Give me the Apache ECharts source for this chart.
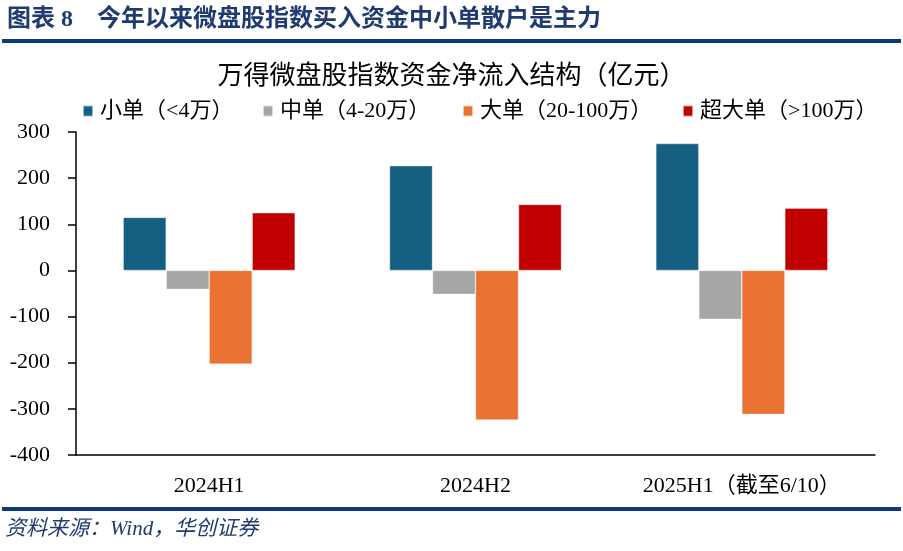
<!DOCTYPE html>
<html>
<head>
<meta charset="utf-8">
<script src="https://cdn.jsdelivr.net/npm/echarts@6/dist/echarts.min.js"></script>
<style>html,body{margin:0;padding:0;background:#fff;}#c{width:903px;height:551px;}</style>
</head>
<body>
<div id="c"></div>
<script>
const categories = ['2024H1', '2024H2', '2025H1（截至6/10）'];
const seriesNames = ['小单（<4万）', '中单（4-20万）', '大单（20-100万）', '超大单（>100万）'];
const smallOrders = [115, 227, 275];
const mediumOrders = [-41, -52, -106];
const largeOrders = [-203, -324, -312];
const xlOrders = [125, 143, 135];
const yTicks = [-400, -300, -200, -100, 0, 100, 200, 300];

const colors = ['#155F82', '#A6A6A6', '#E97132', '#C00000'];
const values = [smallOrders, mediumOrders, largeOrders, xlOrders];
const FONT = '"Liberation Serif", "Noto Sans CJK SC", serif';
const legendLefts = [77, 257, 457, 677];

const chart = echarts.init(document.getElementById('c'));
chart.setOption({
  animation: false,
  backgroundColor: '#fff',
  textStyle: { fontFamily: FONT },
  title: {
    text: '万得微盘股指数资金净流入结构（亿元）',
    left: 'center',
    top: 59,
    textStyle: { fontFamily: FONT, fontSize: 26, fontWeight: 'normal', color: '#000' }
  },
  legend: seriesNames.map((n, i) => ({
    data: [n],
    left: legendLefts[i],
    top: 95,
    itemWidth: 10,
    itemHeight: 11,
    icon: 'rect',
    textStyle: { fontFamily: FONT, fontSize: 22, color: '#000', padding: [0, 0, 0, 2] }
  })),
  grid: { left: 76, right: 28, top: 132, bottom: 96, containLabel: false },
  xAxis: [
    {
      type: 'category',
      data: categories,
      position: 'bottom',
      axisLine: { show: false },
      axisTick: { show: false },
      axisLabel: { fontFamily: FONT, fontSize: 22, color: '#000', margin: 20 }
    },
    {
      type: 'category',
      data: categories,
      position: 'bottom',
      axisLine: { show: true, onZero: true, lineStyle: { color: '#000', width: 1.5 } },
      axisTick: { show: false },
      axisLabel: { show: false }
    }
  ],
  yAxis: {
    type: 'value',
    min: yTicks[0],
    max: yTicks[yTicks.length - 1],
    interval: 100,
    axisLine: { show: true, lineStyle: { color: '#000', width: 1.5 } },
    axisTick: { show: true, inside: false, length: 8, lineStyle: { color: '#000', width: 1.5 } },
    splitLine: { show: false },
    axisLabel: { fontFamily: FONT, fontSize: 22, color: '#000', margin: 26 }
  },
  series: seriesNames.map((n, i) => ({
    name: n,
    type: 'bar',
    xAxisIndex: 0,
    data: values[i],
    barWidth: 43,
    barGap: '0%',
    itemStyle: { color: colors[i], borderColor: 'rgba(255,255,255,0.6)', borderWidth: 0.6 }
  })),
  graphic: [
    {
      type: 'text', left: 7, top: 8,
      style: { text: '图表 8    今年以来微盘股指数买入资金中小单散户是主力', fontFamily: FONT, fontSize: 24, fontWeight: 'bold', fill: '#1F3B70' }
    },
    { type: 'rect', shape: { x: 2, y: 39, width: 899, height: 4 }, style: { fill: '#0B3A7D' } },
    { type: 'rect', shape: { x: 2, y: 507, width: 899, height: 4 }, style: { fill: '#0B3A7D' } },
    {
      type: 'text', left: 5, top: 519,
      style: { text: '资料来源：Wind，华创证券', fontFamily: FONT, fontSize: 21, fontStyle: 'italic', fill: '#1F3B70' }
    }
  ]
});
</script>
</body>
</html>
